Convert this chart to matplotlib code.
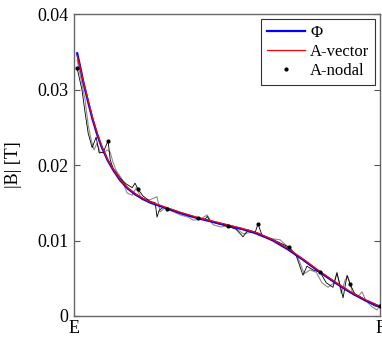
import numpy as np
import matplotlib
matplotlib.use('Agg')
import matplotlib.pyplot as plt

# position along the path E -> F (normalised) and |B| values
x_phi = [0.010, 0.020, 0.030, 0.045, 0.060, 0.075, 0.090, 0.110, 0.130, 0.150,
         0.175, 0.200, 0.225, 0.250, 0.300, 0.350, 0.400, 0.450, 0.500, 0.550,
         0.600, 0.650, 0.700, 0.750, 0.800, 0.850, 0.900, 0.950, 1.000]
b_phi = [0.0348, 0.0330, 0.0310, 0.0285, 0.0261, 0.0241, 0.0224, 0.0206, 0.0192, 0.0180,
         0.0169, 0.0161, 0.0155, 0.0150, 0.0143, 0.0136, 0.0130, 0.0125, 0.0120, 0.0115,
         0.0109, 0.0100, 0.0088, 0.0074, 0.0059, 0.0045, 0.0032, 0.0021, 0.0012]

x_vec = [0.010, 0.020, 0.030, 0.045, 0.060, 0.075, 0.090, 0.110, 0.130, 0.150,
         0.175, 0.200, 0.225, 0.250, 0.300, 0.350, 0.400, 0.450, 0.500, 0.550,
         0.600, 0.650, 0.700, 0.750, 0.800, 0.850, 0.900, 0.950, 1.000]
b_vec = [0.0345, 0.0329, 0.0311, 0.0287, 0.0263, 0.0243, 0.0225, 0.0207, 0.0193, 0.0181,
         0.0170, 0.0162, 0.0156, 0.0151, 0.0144, 0.0137, 0.0131, 0.0126, 0.0121, 0.0116,
         0.0110, 0.0101, 0.0089, 0.0075, 0.0060, 0.0046, 0.0033, 0.0022, 0.0013]

# A-nodal, jagged trace
x_nod = [0.010, 0.026, 0.036, 0.046, 0.059, 0.072, 0.082, 0.095, 0.111, 0.118,
         0.127, 0.150, 0.170, 0.190, 0.199, 0.209, 0.225, 0.248, 0.265, 0.271,
         0.278, 0.291, 0.304, 0.330, 0.356, 0.379, 0.405, 0.428, 0.435, 0.444,
         0.471, 0.503, 0.529, 0.552, 0.569, 0.592, 0.601, 0.614, 0.641, 0.667,
         0.703, 0.725, 0.748, 0.761, 0.781, 0.804, 0.824, 0.846, 0.859, 0.869,
         0.879, 0.892, 0.902, 0.918, 0.941, 0.967, 0.984, 1.000]
b_nod = [0.0328, 0.0299, 0.0269, 0.0242, 0.0223, 0.0237, 0.0216, 0.0217, 0.0232, 0.0207,
         0.0196, 0.0183, 0.0175, 0.0170, 0.0176, 0.0168, 0.0159, 0.0152, 0.0150, 0.0131,
         0.0140, 0.0144, 0.0142, 0.0139, 0.0135, 0.0132, 0.0130, 0.0128, 0.0132, 0.0126,
         0.0122, 0.0119, 0.0115, 0.0105, 0.0114, 0.0111, 0.0122, 0.0107, 0.0103, 0.0098,
         0.0091, 0.0081, 0.0054, 0.0066, 0.0061, 0.0058, 0.0044, 0.0038, 0.0057, 0.0041,
         0.0024, 0.0054, 0.0042, 0.0029, 0.0024, 0.0017, 0.0013, 0.0013]

# second (grey) jagged trace
x_grey = [0.010, 0.023, 0.036, 0.046, 0.056, 0.065, 0.075, 0.085, 0.098, 0.108,
          0.118, 0.127, 0.137, 0.154, 0.173, 0.190, 0.203, 0.222, 0.248, 0.271,
          0.281, 0.297, 0.320, 0.346, 0.373, 0.389, 0.412, 0.435, 0.454, 0.477,
          0.503, 0.533, 0.552, 0.582, 0.608, 0.634, 0.673, 0.706, 0.732, 0.752,
          0.771, 0.791, 0.810, 0.830, 0.850, 0.859, 0.873, 0.886, 0.895, 0.912,
          0.928, 0.941, 0.954, 0.974, 0.990, 1.000]
b_grey = [0.0339, 0.0313, 0.0286, 0.0253, 0.0233, 0.0220, 0.0229, 0.0217, 0.0216, 0.0220,
          0.0217, 0.0204, 0.0193, 0.0183, 0.0163, 0.0160, 0.0170, 0.0154, 0.0154, 0.0158,
          0.0138, 0.0143, 0.0139, 0.0134, 0.0131, 0.0127, 0.0128, 0.0134, 0.0121, 0.0118,
          0.0119, 0.0115, 0.0109, 0.0111, 0.0106, 0.0103, 0.0101, 0.0089, 0.0077, 0.0056,
          0.0061, 0.0058, 0.0044, 0.0038, 0.0044, 0.0058, 0.0030, 0.0048, 0.0052, 0.0028,
          0.0026, 0.0032, 0.0020, 0.0012, 0.0008, 0.0015]

# node markers of A-nodal
x_dot = [0.010, 0.111, 0.209, 0.304, 0.405, 0.503, 0.601, 0.703, 0.804, 0.902, 1.000]
b_dot = [0.0328, 0.0232, 0.0168, 0.0142, 0.0130, 0.0119, 0.0122, 0.0091, 0.0058, 0.0042, 0.0013]

y_ticks = [0, 0.01, 0.02, 0.03, 0.04]
y_tick_labels = ['0', '0.01', '0.02', '0.03', '0.04']
x_tick_labels = ['E', 'F']

plt.rcParams['font.family'] = ['Liberation Serif', 'DejaVu Serif']

fig = plt.figure(figsize=(3.82, 3.4), dpi=100)
ax = fig.add_axes([0.194, 0.0706, 0.801, 0.888])

ax.plot(x_grey, b_grey, color='#8c8c8c', lw=0.8, zorder=2)
ax.plot(x_nod, b_nod, color='black', lw=0.6, zorder=3)
l_phi, = ax.plot(x_phi, b_phi, color='#0000ff', lw=1.6, zorder=4, label='\u03a6')
l_vec, = ax.plot(x_vec, b_vec, color='#ff0000', lw=0.9, zorder=5, label='A-vector')
l_dot, = ax.plot(x_dot, b_dot, ls='none', marker='.', ms=4, color='black', zorder=6, label='A-nodal')

ax.set_xlim(0, 1)
ax.set_ylim(0, 0.04)
ax.set_xticks([0, 1])
ax.set_xticklabels(x_tick_labels)
ax.set_yticks(y_ticks)
ax.set_yticklabels(y_tick_labels)
ax.tick_params(axis='y', direction='in', length=4, width=0.8, color='#555555',
               right=True, labelsize=13, pad=4)
ax.tick_params(axis='x', direction='in', length=0, labelsize=13, pad=3)
for s in ax.spines.values():
    s.set_color('#666666')
    s.set_linewidth(1.0)

ax.set_ylabel('|B| [T]', fontsize=13, labelpad=11)

leg = ax.legend(handles=[l_phi, l_vec, l_dot], loc='upper right', fontsize=12,
                fancybox=False, framealpha=1, edgecolor='#333333',
                handlelength=2.3, labelspacing=0.18, borderaxespad=0.3,
                handletextpad=0.3, borderpad=0.35)
leg.get_frame().set_linewidth(0.8)

fig.savefig('out.png', dpi=100)
